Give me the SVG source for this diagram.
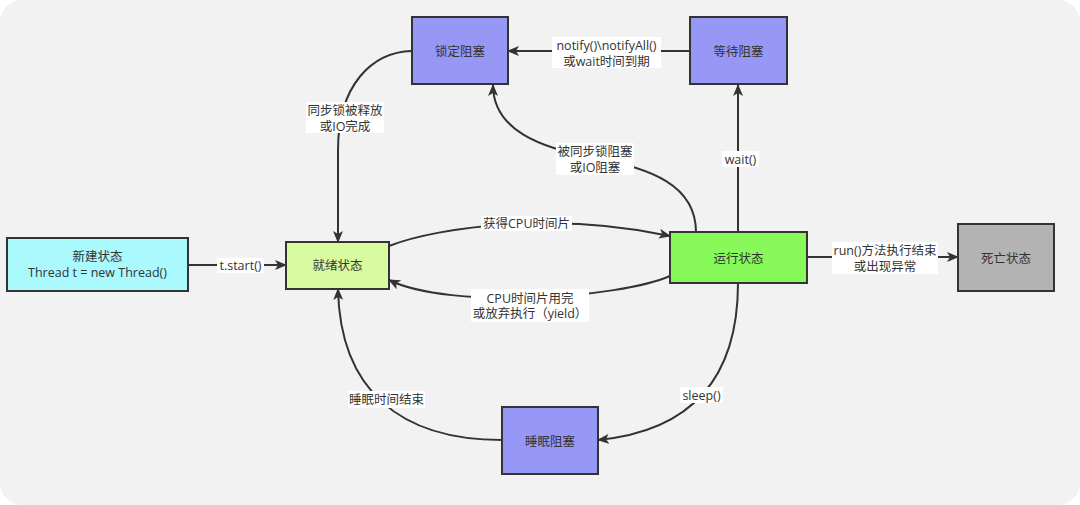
<svg xmlns="http://www.w3.org/2000/svg" width="1080" height="505" viewBox="0 0 1080 505">
<style>
text{font-family:"Open Sans","Noto Sans CJK SC",sans-serif;font-size:12.5px;fill:#333;text-anchor:middle;dominant-baseline:central}
.n{stroke:#333;stroke-width:2}
.c{fill:none;stroke:#333;stroke-width:2}
.lb{fill:#fff}
</style>
<defs>
<marker id="ah" markerWidth="12" markerHeight="10" refX="11" refY="5" orient="auto" markerUnits="userSpaceOnUse">
<path d="M0,0 L12,5 L0,10 L3,5 Z" fill="#333"/>
</marker>
</defs>
<rect x="0" y="0" width="1080" height="505" fill="#fff"/>
<rect x="0" y="0" width="1080" height="505" rx="22" fill="#f2f2f2"/>

<g id="connectors">
<path class="c" d="M188,265 L286,265" marker-end="url(#ah)"/>
<path class="c" d="M389,246 C440,226 560,212 670,236" marker-end="url(#ah)"/>
<path class="c" d="M670,276 C620,298 450,310 389,280" marker-end="url(#ah)"/>
<path class="c" d="M696,232 C696,185 650,168 595,158 C540,148 493,130 493,85" marker-end="url(#ah)"/>
<path class="c" d="M738,232 L738,85" marker-end="url(#ah)"/>
<path class="c" d="M690,51 L508,51" marker-end="url(#ah)"/>
<path class="c" d="M412,51 C372,52 338,85 338,150 L338,242" marker-end="url(#ah)"/>
<path class="c" d="M738,283 C738,370 700,430 598,440" marker-end="url(#ah)"/>
<path class="c" d="M502,440 C400,440 340,390 338,289" marker-end="url(#ah)"/>
<path class="c" d="M807,257 L958,257" marker-end="url(#ah)"/>

<rect class="lb" x="217" y="258" width="47" height="15"/>
<text x="240.5" y="265.5">t.start()</text>
<rect class="lb" x="481" y="216" width="91" height="15"/>
<text x="526.5" y="223.5">获得CPU时间片</text>
<rect class="lb" x="471" y="289" width="118" height="33"/>
<text x="530" y="298">CPU时间片用完</text>
<text x="530" y="313">或放弃执行（yield）</text>
<rect class="lb" x="556" y="143" width="78" height="32"/>
<text x="595" y="151">被同步锁阻塞</text>
<text x="595" y="167">或IO阻塞</text>
<rect class="lb" x="722" y="151" width="37" height="16"/>
<text x="740.5" y="159">wait()</text>
<rect class="lb" x="552" y="37" width="109" height="31"/>
<text x="606.5" y="45">notify()\notifyAll()</text>
<text x="606.5" y="61">或wait时间到期</text>
<rect class="lb" x="306" y="102" width="78" height="31"/>
<text x="345" y="110">同步锁被释放</text>
<text x="345" y="126">或IO完成</text>
<rect class="lb" x="680" y="387" width="43" height="16"/>
<text x="701.5" y="395">sleep()</text>
<rect class="lb" x="348" y="391" width="77" height="17"/>
<text x="386.5" y="399.5">睡眠时间结束</text>
<rect class="lb" x="832" y="242" width="106" height="32"/>
<text x="885" y="250">run()方法执行结束</text>
<text x="885" y="266">或出现异常</text>
</g>

<g id="new">
<rect class="n" x="7" y="238" width="181" height="53" fill="#aaf9fc"/>
<text x="97.5" y="256">新建状态</text>
<text x="97.5" y="272">Thread t = new Thread()</text>
</g>
<g id="ready">
<rect class="n" x="286" y="242" width="103" height="47" fill="#d7fb9e"/>
<text x="337.5" y="265.5">就绪状态</text>
</g>
<g id="running">
<rect class="n" x="670" y="232" width="137" height="51" fill="#88f95a"/>
<text x="738.5" y="258">运行状态</text>
</g>
<g id="dead">
<rect class="n" x="958" y="224" width="96" height="67" fill="#b3b3b3"/>
<text x="1006" y="258">死亡状态</text>
</g>
<g id="locked">
<rect class="n" x="412" y="17" width="96" height="67" fill="#9797f5"/>
<text x="460" y="51">锁定阻塞</text>
</g>
<g id="waiting">
<rect class="n" x="690" y="17" width="97" height="67" fill="#9797f5"/>
<text x="738.5" y="51">等待阻塞</text>
</g>
<g id="sleeping">
<rect class="n" x="502" y="407" width="96" height="67" fill="#9797f5"/>
<text x="550" y="441">睡眠阻塞</text>
</g>
</svg>
